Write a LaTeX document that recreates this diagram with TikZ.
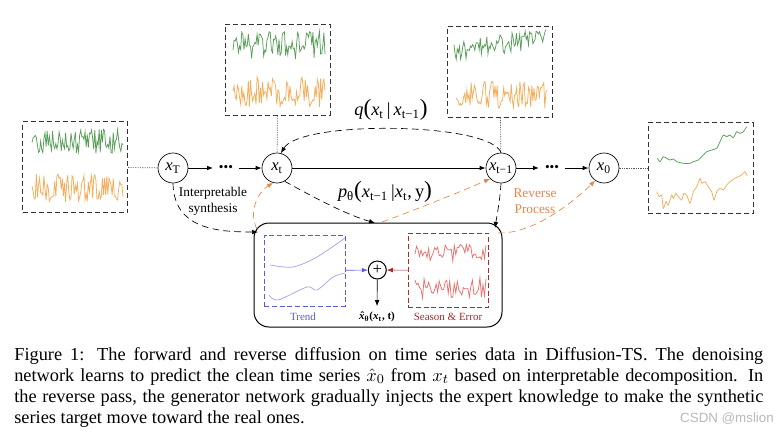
\documentclass[tikz,border=0pt]{standalone}
\usepackage{fontspec}
\setmainfont{Liberation Serif}
\newfontfamily\marksans{Liberation Sans}
\usetikzlibrary{arrows.meta}

\definecolor{noisegreen}{RGB}{88,158,88}
\definecolor{noiseorange}{RGB}{246,172,88}
\definecolor{trendblue}{RGB}{92,92,214}
\definecolor{seasonred}{RGB}{172,42,42}
\definecolor{seasonline}{RGB}{236,112,112}
\definecolor{revorange}{RGB}{226,136,76}

\newcommand{\vx}{\textit{x}}
\newcommand{\low}[1]{\textsubscript{#1}}
\newcommand{\bigp}[1]{{\fontsize{14}{14}\selectfont #1}}
\newcommand{\hatx}{{\ooalign{\textit{x}\cr\hidewidth\kern0.12em ˆ\hidewidth\cr}}}
% noisy series: colour, from, to, base line, amplitude, samples
\newcommand{\noise}[6][85]{%
  \draw[#2,line width=0.45pt] plot[domain=#3:#4,samples=#1] (\x,{#5+#6*rand});}

\begin{document}
\begin{tikzpicture}[x=0.6pt,y=-0.6pt,
    >={Latex[length=3.6pt,width=2.8pt]},
    state/.style={draw,circle,minimum size=18pt,inner sep=0pt,font=\fontsize{10}{12}\selectfont},
    panel/.style={draw=black!80,semithick,dash pattern=on 3pt off 1.8pt,minimum width=63pt,minimum height=54.6pt},
    flow/.style={->,dash pattern=on 4pt off 2.6pt},
    revflow/.style={flow,revorange},
    link/.style={gray!70!black,dash pattern=on 0.7pt off 0.7pt},
    small/.style={font=\fontsize{8}{9.6}\selectfont,align=center}
  ]
  \useasboundingbox (0,0) rectangle (784,431);

  % series panels
  \node[panel] (panL) at (75.2,167) {};
  \node[panel] (panA) at (277.7,69.7) {};
  \node[panel] (panB) at (500,71.5) {};
  \node[panel] (panR) at (700.8,168) {};

  \pgfmathsetseed{11}
  \noise{noisegreen}{32}{123}{142}{13}
  \noise{noiseorange}{32}{123}{188}{14}
  \noise{noisegreen}{233}{325}{45}{14}
  \noise{noiseorange}{233}{325}{92}{15}
  \noise{noisegreen}{454}{546}{52-0.16*(\x-454)}{10}
  \noise{noiseorange}{456}{547}{95}{14}

  \draw[noisegreen,line width=0.45pt] plot[smooth,tension=0.3] coordinates {
    (657.3,158.3) (660,161.7) (663.3,156.7) (666.7,158.3) (670,160) (673.3,159)
    (676.7,161.7) (683.3,163.3) (690,163.3) (693.3,161.7) (698.3,160) (703.3,155)
    (706.7,151.7) (711.7,150) (716.7,148.3) (720,141.7) (723.3,135) (726.7,136.7)
    (730,135) (733.3,137.7) (736.7,131.7) (740,133.3) (743.3,131.7) (746.7,126.7)};
  \draw[noiseorange,line width=0.45pt] plot[smooth,tension=0.3] coordinates {
    (656.7,191.7) (659.3,196.7) (661.7,195) (663.3,208.3) (666,201.7) (668.3,205)
    (671.7,195) (673.3,198.3) (676,193.3) (678.3,196.7) (681.7,200) (684,193.3)
    (686.7,195) (690,203.3) (693.3,191.7) (696.7,186.7) (700,178.3) (701.7,183.3)
    (705,181.7) (708.3,186.7) (711.7,191.7) (714,200) (716.7,191.7) (720,188.3)
    (723.3,190) (726.7,185) (730,181.7) (735,178.3) (738.3,176.7) (741.7,175)
    (745,171.7) (747.3,175.7)};

  % diffusion chain
  \node[state] (xT) at (173,168) {\vx\low{T}};
  \node[state] (xt) at (277,168) {\vx\low{t}};
  \node[state] (xt1) at (501,168) {\vx\low{t−1}};
  \node[state] (x0) at (604,168) {\vx\low{0}};
  \node[font=\fontsize{8}{8}\selectfont] (dotsA) at (226,168) {•••};
  \node[font=\fontsize{8}{8}\selectfont] (dotsB) at (552,168) {•••};

  \draw[->,semithick] (xT) -- (dotsA);
  \draw[->,semithick] (dotsA) -- (xt);
  \draw[->,semithick] (xt) -- (xt1);
  \draw[->,semithick] (xt1) -- (dotsB);
  \draw[->,semithick] (dotsB) -- (x0);

  \draw[link] (panL) -- (xT);
  \draw[link] (panA) -- (xt);
  \draw[link] (panB) -- (xt1);
  \draw[link] (x0) -- (panR);

  \draw[flow] (xt1.north) .. controls (490,122) and (300,120) .. (xt.75);

  \node (qlab) at (391,110) {\fontsize{11}{13}\selectfont
    \textit{q}\bigp{(}\vx\low{t}\,|\,\vx\low{t−1}\bigp{)}};
  \node (plab) at (385,192) {\fontsize{11}{13}\selectfont
    \textit{p}\low{θ}\bigp{(}\vx\low{t−1}\,|\vx\low{t},\,y\bigp{)}};
  \node[small] (synth) at (213,201) {Interpretable\\synthesis};
  \node[small,text=revorange] (rev) at (535,201) {Reverse\\Process};

  % denoising network
  \node[draw,semithick,rounded corners=9pt,minimum width=148.8pt,minimum height=62.4pt] (net) at (378,275) {};
  \node[draw=trendblue,semithick,dash pattern=on 3pt off 1.6pt,minimum width=48.4pt,minimum height=42.6pt] (trend) at (304.7,270.5) {};
  \node[draw=seasonred,semithick,dash pattern=on 3pt off 1.6pt,minimum width=48.2pt,minimum height=44.4pt] (season) at (448.5,270.3) {};
  \node[draw,semithick,circle,inner sep=0pt,minimum size=10.8pt,font=\fontsize{10}{10}\selectfont] (plus) at (377.3,270) {+};
  \node[font=\fontsize{6.6}{8}\selectfont,text=trendblue] (trendlab) at (303,317) {Trend};
  \node[font=\fontsize{6.6}{8}\selectfont,text=seasonred] (seasonlab) at (448,317) {Season \& Error};
  \node[font=\bfseries\fontsize{6.6}{8}\selectfont] (xhat) at (377,317) {\hatx\low{θ}(\textit{x}\low{t}, t)};

  \draw[trendblue!55,line width=0.45pt] plot[smooth] coordinates {(270,265) (293,267) (317,257) (345,238)};
  \draw[trendblue!55,line width=0.45pt] plot[smooth] coordinates {(269,295) (278,300) (307,287) (317,290) (333,277) (345,273)};
  \noise[48]{seasonline}{415}{486}{252}{9}
  \noise[48]{seasonline}{415}{486}{287}{11}

  \draw[->,trendblue] (trend) -- (plus);
  \draw[->,seasonred] (season) -- (plus);
  \draw[->] (plus) -- (xhat);

  % inputs of the network
  \coordinate (inL) at (258,232);
  \coordinate (inT) at (375,223);
  \coordinate (inR) at (495,228);
  \coordinate (outL) at (257,229);
  \coordinate (outT) at (382,222);
  \coordinate (outR) at (498,233);

  \draw[flow] (xT.south) .. controls (174,228) and (215,232) .. (inL);
  \draw[flow] (xt.-60) .. controls (315,198) and (345,214) .. (inT);
  \draw[flow] (xt1.south) .. controls (500,200) and (497,215) .. (inR);
  \draw[revflow] (outL) .. controls (248,212) and (258,192) .. (xt.-105);
  \draw[revflow] (outT) .. controls (420,208) and (460,192) .. (xt1.-135);
  \draw[revflow] (outR) .. controls (532,234) and (570,205) .. (x0.-125);

  % caption
  \node[anchor=north west,inner sep=0pt,text width=449.4pt,align=justify,font=\fontsize{11}{12.6}\selectfont] (caption) at (14,347)
    {Figure 1: The forward and reverse diffusion on time series data in Diffusion-TS. The denoising\linebreak
     network learns to predict the clean time series $\hat{x}_0$ from $x_t$ based on interpretable decomposition. In\linebreak
     the reverse pass, the generator network gradually injects the expert knowledge to make the synthetic\linebreak
     series target move toward the real ones.};
  \node[font=\marksans\fontsize{8}{8}\selectfont,text=gray!55] (mark) at (727,419) {CSDN @mslion};
\end{tikzpicture}
\end{document}
